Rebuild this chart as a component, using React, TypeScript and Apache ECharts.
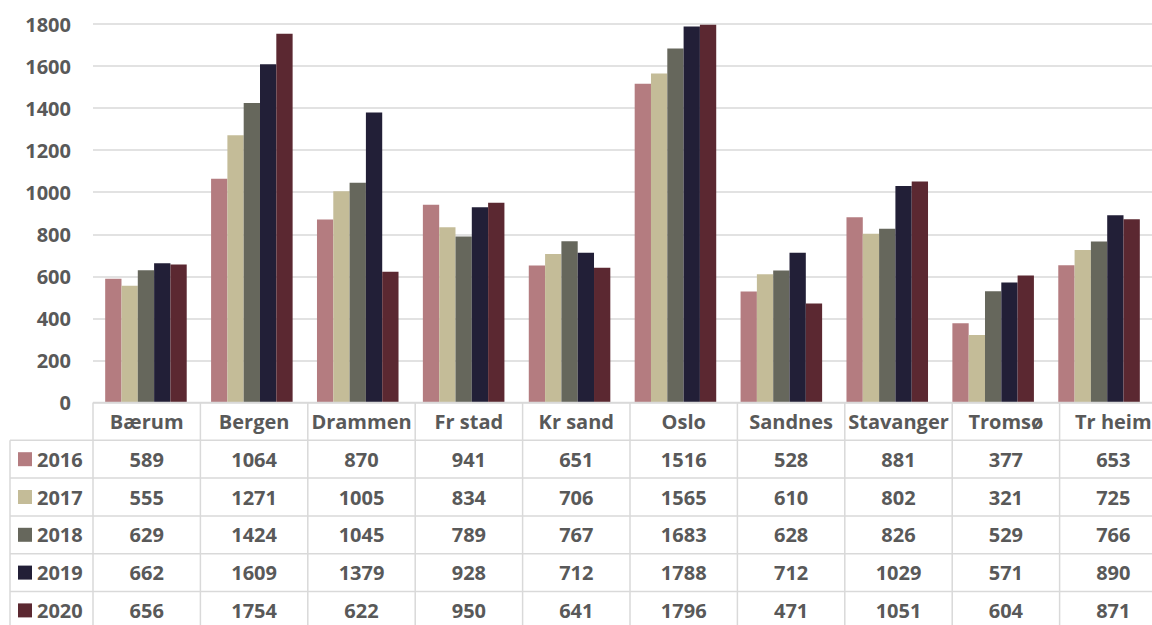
import React, { useEffect, useRef } from "react";
import * as echarts from "echarts";

const categories = ["Bærum", "Bergen", "Drammen", "Fr stad", "Kr sand", "Oslo", "Sandnes", "Stavanger", "Tromsø", "Tr heim"];
const years = ["2016", "2017", "2018", "2019", "2020"];
const v2016 = [589, 1064, 870, 941, 651, 1516, 528, 881, 377, 653];
const v2017 = [555, 1271, 1005, 834, 706, 1565, 610, 802, 321, 725];
const v2018 = [629, 1424, 1045, 789, 767, 1683, 628, 826, 529, 766];
const v2019 = [662, 1609, 1379, 928, 712, 1788, 712, 1029, 571, 890];
const v2020 = [656, 1754, 622, 950, 641, 1796, 471, 1051, 604, 871];
const seriesValues = [v2016, v2017, v2018, v2019, v2020];
const colors = ["#B47C80", "#C4BC98", "#66675C", "#221F37", "#5B2831"];
const yMax = 1800;
const yInterval = 200;

const W = 1152;
const H = 625;
const gridLeft = 93;
const gridRight = -15;
const gridTop = 24;
const axisY = 402.5;
const rowH = 37.8;
const tableLeft = 10;
const textColor = "#595959";
const lineColor = "#D9D9D9";
const font = "'Open Sans', 'DejaVu Sans', sans-serif";
const fs = 20;

export default function App() {
  const ref = useRef<HTMLDivElement>(null);
  useEffect(() => {
    if (!ref.current) return;
    const chart = echarts.init(ref.current, null, { renderer: "svg" });
    const plotW = W - gridLeft - gridRight;
    const catW = plotW / categories.length;
    const headerTop = axisY;
    const headerBottom = headerTop + rowH;
    const tableBottom = headerBottom + rowH * years.length;
    const graphic: any[] = [];
    const ls = { stroke: lineColor, lineWidth: 1.5 };
    graphic.push({ type: "line", shape: { x1: gridLeft, y1: headerTop, x2: W + 20, y2: headerTop }, style: ls, z: 100 });
    for (let r = 0; r <= years.length; r++) {
      const y = headerBottom + r * rowH;
      graphic.push({ type: "line", shape: { x1: tableLeft, y1: y, x2: W + 20, y2: y }, style: ls, z: 100 });
    }
    graphic.push({ type: "line", shape: { x1: tableLeft, y1: headerBottom, x2: tableLeft, y2: tableBottom }, style: ls, z: 100 });
    for (let c = 0; c <= categories.length; c++) {
      const x = gridLeft + c * catW;
      graphic.push({ type: "line", shape: { x1: x, y1: headerTop, x2: x, y2: tableBottom }, style: ls, z: 100 });
    }
    categories.forEach((cat, i) => {
      graphic.push({
        type: "text",
        x: gridLeft + (i + 0.5) * catW,
        y: headerTop + rowH / 2,
        style: { text: cat, fill: textColor, font: `bold ${fs}px ${font}`, textAlign: "center", textVerticalAlign: "middle" },
        z: 100,
      });
    });
    years.forEach((yr, r) => {
      const cy = headerBottom + (r + 0.5) * rowH;
      graphic.push({ type: "rect", shape: { x: 18, y: cy - 7, width: 14, height: 14 }, style: { fill: colors[r] }, z: 100 });
      graphic.push({
        type: "text",
        x: 37,
        y: cy,
        style: { text: yr, fill: textColor, font: `bold ${fs}px ${font}`, textAlign: "left", textVerticalAlign: "middle" },
        z: 100,
      });
      seriesValues[r].forEach((v, i) => {
        graphic.push({
          type: "text",
          x: gridLeft + (i + 0.5) * catW,
          y: cy,
          style: { text: String(v), fill: textColor, font: `bold ${fs}px ${font}`, textAlign: "center", textVerticalAlign: "middle" },
          z: 100,
        });
      });
    });

    chart.setOption({
      animation: false,
      backgroundColor: "#FFFFFF",
      grid: { left: gridLeft, right: gridRight, top: gridTop, bottom: H - axisY, containLabel: false },
      xAxis: {
        type: "category",
        data: categories,
        axisLine: { show: false },
        axisTick: { show: false },
        axisLabel: { show: false },
      },
      yAxis: {
        type: "value",
        min: 0,
        max: yMax,
        interval: yInterval,
        axisLine: { show: false },
        axisTick: { show: false },
        axisLabel: {
          color: textColor,
          fontFamily: font,
          fontWeight: "bold",
          fontSize: fs,
          margin: 22,
          formatter: (v: number) => String(v),
        },
        splitLine: { lineStyle: { color: lineColor, width: 1.5 } },
      },
      series: years.map((yr, r) => ({
        name: yr,
        type: "bar",
        data: seriesValues[r],
        barGap: "0%",
        barCategoryGap: "23%",
        itemStyle: { color: colors[r] },
      })),
      graphic,
    });
    return () => chart.dispose();
  }, []);
  return <div ref={ref} style={{ position: "fixed", left: 0, top: 0, width: W, height: H, overflow: "hidden" }} />;
}
